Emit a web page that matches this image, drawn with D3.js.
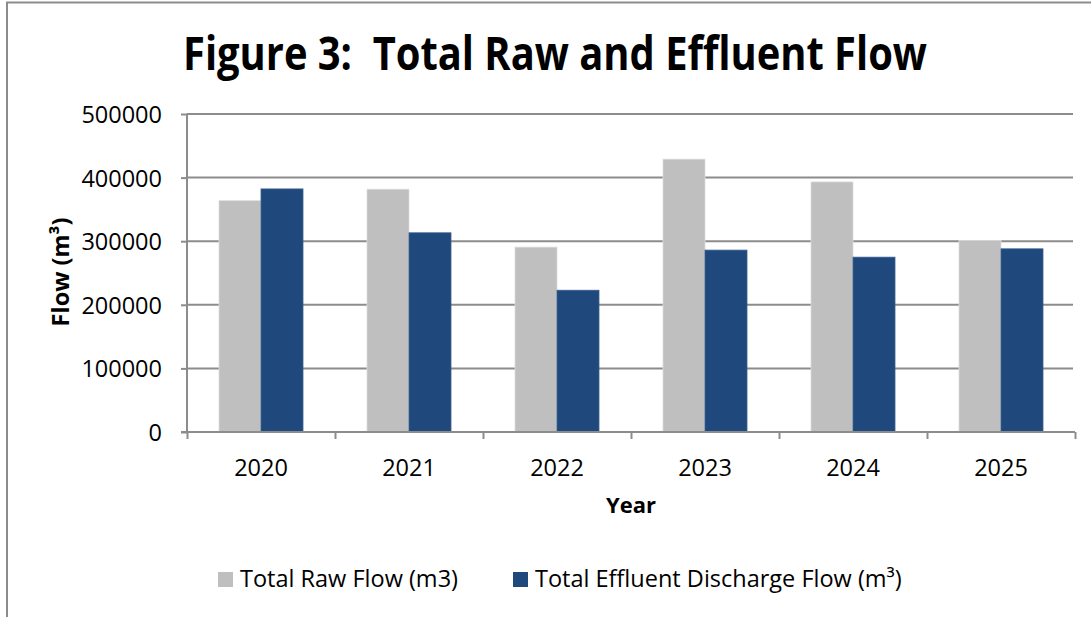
<!DOCTYPE html>
<html>
<head>
<meta charset="utf-8">
<script src="https://cdn.jsdelivr.net/npm/d3@7"></script>
<style>
  body { margin: 0; background: #fff; }
  text { font-family: "Open Sans", sans-serif; fill: #000; }
</style>
</head>
<body>
<div id="chart"></div>
<script>
const years = ["2020", "2021", "2022", "2023", "2024", "2025"];
const rawFlow = [363700, 381700, 290700, 429000, 393200, 301300];
const effluentFlow = [382200, 313200, 222900, 286000, 274900, 288000];
const seriesNames = ["Total Raw Flow (m3)", "Total Effluent Discharge Flow (m³)"];
const yTicks = [0, 100000, 200000, 300000, 400000, 500000];

const W = 1091, H = 617;
const margin = { top: 114, right: 16, bottom: 185, left: 187 };
const innerW = 1075 - margin.left;
const innerH = H - margin.top - margin.bottom;
const colors = ["#bfbfbf", "#1f497d"];

const svg = d3.select("#chart").append("svg")
  .attr("width", W)
  .attr("height", H);

// outer frame (left + top edges visible)
svg.append("path")
  .attr("d", "M7,617 V2.5 H1091")
  .attr("fill", "none")
  .attr("stroke", "#8c8c8c")
  .attr("stroke-width", 2);

svg.append("text")
  .attr("x", 555)
  .attr("y", 70)
  .attr("text-anchor", "middle")
  .attr("textLength", 744)
  .attr("lengthAdjust", "spacingAndGlyphs")
  .style("font-size", "46px")
  .style("font-weight", "bold")
  .style("white-space", "pre")
  .text("Figure 3:  Total Raw and Effluent Flow");

const g = svg.append("g")
  .attr("transform", "translate(" + margin.left + "," + margin.top + ")");

const x = d3.scaleBand().domain(years).range([0, innerW]);
const xSub = d3.scaleBand().domain([0, 1]).range([0, x.bandwidth()]).paddingOuter(0.762);
const y = d3.scaleLinear().domain([0, 500000]).range([innerH, 0]);

// gridlines
g.selectAll(".grid")
  .data(yTicks.filter(d => d > 0))
  .enter()
  .append("line")
    .attr("x1", 0)
    .attr("x2", innerW - 2)
    .attr("y1", d => y(d))
    .attr("y2", d => y(d))
    .attr("stroke", "#8c8c8c")
    .attr("stroke-width", 2);

// bars
const data = years.map((yr, i) => ({ year: yr, values: [rawFlow[i], effluentFlow[i]] }));
g.selectAll(".group")
  .data(data)
  .enter()
  .append("g")
    .attr("transform", d => "translate(" + x(d.year) + ",0)")
  .selectAll("rect")
  .data(d => d.values.map((v, k) => ({ k: k, v: v })))
  .enter()
  .append("rect")
    .attr("x", d => xSub(d.k))
    .attr("y", d => y(d.v))
    .attr("width", xSub.bandwidth())
    .attr("height", d => innerH - y(d.v))
    .attr("fill", d => colors[d.k])
    .attr("stroke", d => d.k === 0 ? "#dcdcdc" : "#3a5f8f")
    .attr("stroke-width", 0.8);

// y axis
const yAxis = g.append("g")
  .call(d3.axisLeft(y).tickValues(yTicks).tickSize(6).tickPadding(19).tickFormat(d3.format("d")));
yAxis.select(".domain").attr("stroke", "#8c8c8c").attr("stroke-width", 2).attr("d", "M0,0 V" + innerH);
yAxis.selectAll(".tick line").attr("stroke", "#8c8c8c").attr("stroke-width", 2);
yAxis.selectAll(".tick text").style("font-size", "23.5px").attr("dy", "0.36em").attr("font-family", null);

// x axis
const xEdge = d3.scaleLinear().domain([0, years.length]).range([0, innerW]);
const xAxis = g.append("g")
  .attr("transform", "translate(0," + innerH + ")")
  .call(d3.axisBottom(xEdge).tickValues(d3.range(years.length + 1)).tickSize(7).tickFormat(""));
xAxis.select(".domain").attr("stroke", "#8c8c8c").attr("stroke-width", 2).attr("d", "M-6,0 H" + innerW);
xAxis.selectAll(".tick line").attr("stroke", "#8c8c8c").attr("stroke-width", 2);

const xLabels = g.append("g")
  .attr("transform", "translate(0," + innerH + ")")
  .call(d3.axisBottom(x).tickSize(0).tickPadding(27));
xLabels.select(".domain").remove();
xLabels.selectAll(".tick text").style("font-size", "23.5px").attr("font-family", null);

// axis titles
svg.append("text")
  .attr("transform", "translate(69,272) rotate(-90)")
  .attr("text-anchor", "middle")
  .style("font-size", "23.5px")
  .style("font-weight", "bold")
  .text("Flow (m³)");

svg.append("text")
  .attr("x", 631)
  .attr("y", 513)
  .attr("text-anchor", "middle")
  .style("font-size", "22px")
  .style("font-weight", "bold")
  .text("Year");

// legend
const legendX = [218, 513];
const legend = svg.selectAll(".legend")
  .data(seriesNames)
  .enter()
  .append("g")
    .attr("transform", (d, i) => "translate(" + legendX[i] + ",572)");
legend.append("rect")
  .attr("width", 15)
  .attr("height", 15)
  .attr("fill", (d, i) => colors[i]);
legend.append("text")
  .attr("x", 22)
  .attr("y", 15)
  .style("font-size", "23.5px")
  .text(d => d);
</script>
</body>
</html>
